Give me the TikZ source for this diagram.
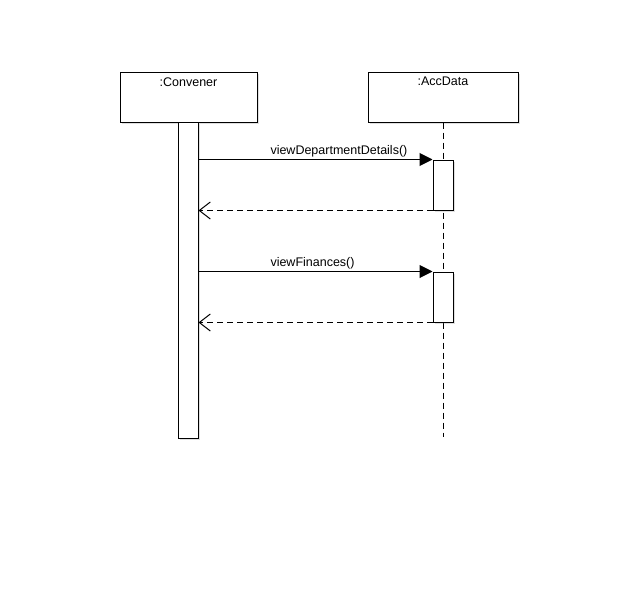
\documentclass[tikz,border=0pt]{standalone}
\usepackage{fontspec}
\setmainfont{Liberation Sans}
\usetikzlibrary{arrows.meta,shadows}

\begin{document}
\begin{tikzpicture}[x=1pt,y=-1pt,line width=1pt,
  font=\fontsize{12.5}{15}\selectfont,
  objbox/.style={draw,fill=white,minimum width=137pt,minimum height=50pt,inner sep=0pt,
    drop shadow={shadow xshift=2pt,shadow yshift=-2pt,opacity=0.25}},
  actbar/.style={draw,fill=white,minimum width=20pt,inner sep=0pt,
    drop shadow={shadow xshift=2pt,shadow yshift=-2pt,opacity=0.25}},
  msgcall/.style={-{Triangle[length=13pt,width=13pt]}},
  msgret/.style={dash pattern=on 6pt off 4pt,-{Straight Barb[length=11pt,width=17pt]}}]
  \useasboundingbox (0,0) rectangle (638,608);
  % objects
  \path (188.5,97) node[objbox] (conv) {};
  \path (443,97) node[objbox,minimum width=150pt] (acc) {};
  \path (conv.north) node[anchor=north,yshift=-2pt] (convname) {:Convener};
  \path (acc.north) node[anchor=north,yshift=-2pt] (accname) {:AccData};
  % lifelines
  \coordinate (accend) at (443,437);
  \draw[dash pattern=on 6pt off 4pt] (acc.south) -- (accend);
  \path (188,280) node[actbar,minimum height=316pt] (convbar) {};
  \path (443,185) node[actbar,minimum height=50pt] (act1) {};
  \path (443,297) node[actbar,minimum height=50pt] (act2) {};
  % messages
  \begin{scope}
    \draw[msgcall] (act1.north west -| convbar.east) -- (act1.north west);
    \draw[msgret] (act1.south west) -- (act1.south west -| convbar.east);
    \draw[msgcall] (act2.north west -| convbar.east) -- (act2.north west);
    \draw[msgret] (act2.south west) -- (act2.south west -| convbar.east);
  \end{scope}
  \path (270,151) node[anchor=west,inner sep=0pt] (call1) {viewDepartmentDetails()};
  \path (270,263) node[anchor=west,inner sep=0pt] (call2) {viewFinances()};
\end{tikzpicture}
\end{document}
